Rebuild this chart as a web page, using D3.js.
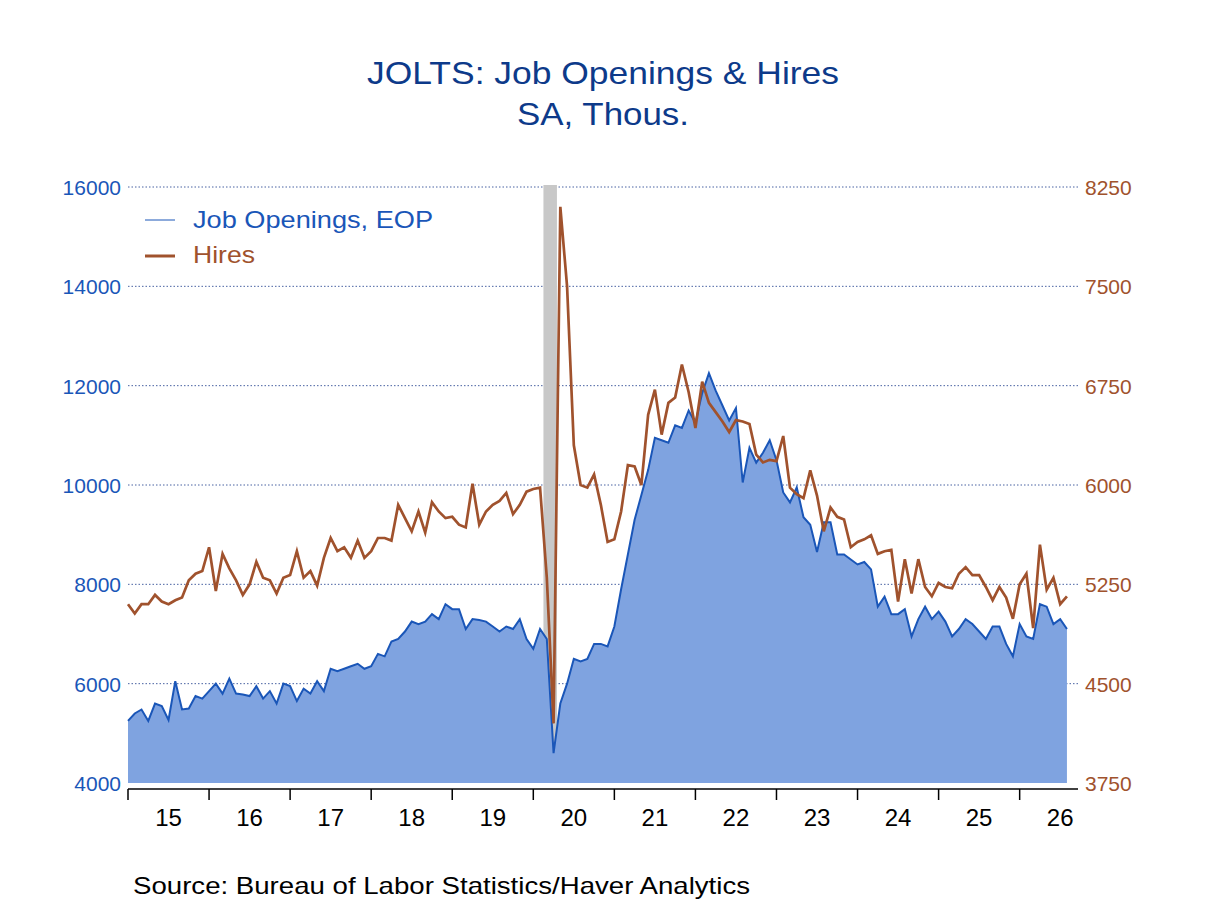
<!DOCTYPE html><html><head><meta charset="utf-8"><script src="https://cdn.jsdelivr.net/npm/d3@7"></script>
<style>body{margin:0;background:#fff}text{font-family:Arial,"Liberation Sans",sans-serif}</style></head><body><svg id="c" width="1208" height="906"></svg>
<script>
const startYear = 2015;
const openings = [
5250,5400,5480,5250,5600,5550,5270,6050,5480,5500,5750,5700,
5850,6000,5800,6100,5800,5780,5750,5950,5700,5850,5600,6000,
5950,5650,5900,5800,6050,5850,6300,6250,6300,6350,6400,6300,
6350,6600,6550,6850,6900,7050,7250,7200,7250,7400,7300,7600,
7500,7500,7100,7300,7280,7250,7150,7050,7150,7100,7300,6900,
6700,7100,6900,4600,5600,6000,6500,6450,6500,6800,6800,6750,
7150,7900,8600,9300,9800,10300,10950,10900,10850,11200,11150,11500,
11250,11850,12250,11900,11600,11300,11550,10050,10750,10450,10650,10900,
10500,9850,9650,9950,9350,9200,8650,9250,9250,8600,8600,8500,
8400,8450,8300,7550,7750,7400,7400,7500,6950,7300,7550,7300,
7450,7250,6950,7100,7300,7200,7050,6900,7150,7150,6800,6550,
7200,6950,6900,7600,7550,7200,7300,7100];
const hires = [
5100,5030,5100,5100,5170,5120,5100,5130,5150,5280,5330,5350,
5530,5200,5480,5370,5280,5170,5250,5420,5300,5280,5180,5300,
5320,5500,5300,5350,5240,5450,5600,5500,5530,5450,5580,5450,
5500,5600,5600,5580,5850,5750,5650,5800,5640,5870,5800,5750,
5760,5700,5680,6010,5700,5800,5850,5880,5940,5780,5850,5950,
5970,5980,5300,4200,8100,7500,6300,6000,5980,6080,5850,5570,
5590,5800,6150,6140,6000,6530,6720,6380,6620,6660,6910,6700,
6430,6780,6620,6550,6480,6400,6490,6480,6460,6230,6170,6190,
6180,6370,5980,5930,5900,6110,5920,5650,5830,5760,5740,5530,
5570,5590,5620,5480,5500,5510,5120,5440,5180,5440,5230,5160,
5260,5230,5220,5330,5380,5320,5320,5230,5130,5230,5150,4990,
5250,5330,4920,5550,5210,5300,5100,5160];
const leftTicks = [4000,6000,8000,10000,12000,14000,16000];
const rightTicks = [3750,4500,5250,6000,6750,7500,8250];
const yearLabels = ["15","16","17","18","19","20","21","22","23","24","25","26"];
const recession = [61.5, 63.5];

const svg = d3.select("#c");
const X0=128, X1=1070, Y0=783, Y1=187;
const x = d3.scaleLinear().domain([0,139.5]).range([X0, X0+139.5*6.755]);
const yL = d3.scaleLinear().domain([4000,16000]).range([Y0,Y1]);
const yR = d3.scaleLinear().domain([3750,8250]).range([Y0,Y1]);
const blue="#1a56b8", brown="#a0522d";
function txt(xp,yp,s,size,fill,len,anchor){
  const t=svg.append("text").attr("x",xp).attr("y",yp).attr("font-size",size).attr("fill",fill).attr("text-anchor",anchor||"start").text(s);
  if(len) t.attr("textLength",len).attr("lengthAdjust","spacingAndGlyphs");
  return t;
}
txt(603,84,"JOLTS: Job Openings & Hires",32,"#0d3a8a",472,"middle");
txt(603,125,"SA, Thous.",32,"#0d3a8a",172,"middle");

leftTicks.forEach(t=>{
  if(t>4000) svg.append("line").attr("x1",X0).attr("x2",X1+8).attr("y1",yL(t)).attr("y2",yL(t)).attr("stroke","#1a3a8a").attr("stroke-dasharray","1.5,2").attr("stroke-width",0.8);
  txt(121,yL(t)+8,t,21,blue,null,"end");
});
rightTicks.forEach(t=>txt(1085,yR(t)+8,t,21,brown));

svg.append("rect").attr("x",x(recession[0])).attr("width",x(recession[1])-x(recession[0])).attr("y",Y1-2).attr("height",Y0-Y1+2).attr("fill","#c8c8c8");

svg.append("path").datum(openings).attr("fill","#7fa3e0")
 .attr("d",d3.area().x((d,i)=>x(i)).y0(Y0).y1(d=>yL(d)));
svg.append("path").datum(openings).attr("fill","none").attr("stroke",blue).attr("stroke-width",2)
 .attr("d",d3.line().x((d,i)=>x(i)).y(d=>yL(d)));
svg.append("path").datum(hires).attr("fill","none").attr("stroke",brown).attr("stroke-width",2.7)
 .attr("d",d3.line().x((d,i)=>x(i)).y(d=>yR(d)));

svg.append("line").attr("x1",X0).attr("x2",X1+8).attr("y1",789).attr("y2",789).attr("stroke","#000").attr("stroke-width",1.5);
yearLabels.forEach((l,i)=>{
  const xt=x(i*12);
  svg.append("line").attr("x1",xt).attr("x2",xt).attr("y1",789).attr("y2",800).attr("stroke","#000").attr("stroke-width",1.5);
  txt(x(i*12+6),826,l,24,"#000",null,"middle");
});

svg.append("line").attr("x1",145).attr("x2",175).attr("y1",220).attr("y2",220).attr("stroke",blue).attr("stroke-width",1);
txt(193,228,"Job Openings, EOP",24,blue,240);
svg.append("line").attr("x1",145).attr("x2",175).attr("y1",256).attr("y2",256).attr("stroke",brown).attr("stroke-width",3);
txt(193,263,"Hires",24,brown,62);

txt(133,894,"Source:  Bureau of Labor Statistics/Haver Analytics",24,"#000",617);
</script></body></html>
